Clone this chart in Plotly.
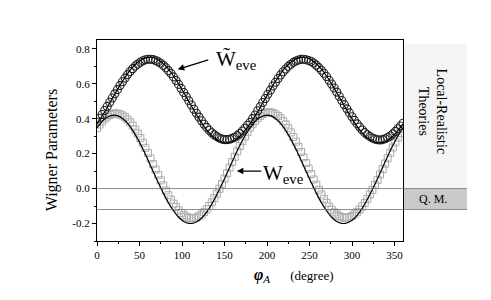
import plotly.graph_objects as go

# --- data ---
phi_pts = list(range(0, 361, 3))
w_tilde_pts = [
    0.381, 0.402, 0.424, 0.447, 0.470, 0.494, 0.518, 0.542, 0.566, 0.589,
    0.611, 0.632, 0.652, 0.670, 0.686, 0.701, 0.713, 0.723, 0.731, 0.737,
    0.740, 0.740, 0.738, 0.733, 0.726, 0.717, 0.705, 0.691, 0.675, 0.658,
    0.639, 0.618, 0.596, 0.573, 0.550, 0.526, 0.502, 0.478, 0.454, 0.431,
    0.409, 0.388, 0.368, 0.350, 0.334, 0.319, 0.307, 0.297, 0.289, 0.283,
    0.280, 0.280, 0.282, 0.287, 0.294, 0.303, 0.315, 0.329, 0.345, 0.362,
    0.378, 0.400, 0.421, 0.445, 0.468, 0.492, 0.515, 0.540, 0.563, 0.587,
    0.608, 0.630, 0.650, 0.668, 0.684, 0.699, 0.711, 0.722, 0.730, 0.736,
    0.739, 0.740, 0.737, 0.733, 0.727, 0.718, 0.706, 0.692, 0.677, 0.660,
    0.641, 0.620, 0.598, 0.575, 0.552, 0.528, 0.504, 0.480, 0.456, 0.433,
    0.411, 0.390, 0.370, 0.352, 0.335, 0.320, 0.308, 0.297, 0.289, 0.283,
    0.279, 0.278, 0.280, 0.285, 0.292, 0.301, 0.313, 0.327, 0.342, 0.358,
    0.374,
]
w_pts = [
    0.346, 0.366, 0.384, 0.400, 0.412, 0.421, 0.427, 0.430, 0.429, 0.425,
    0.418, 0.408, 0.395, 0.379, 0.360, 0.338, 0.315, 0.289, 0.262, 0.233,
    0.203, 0.172, 0.140, 0.109, 0.078, 0.047, 0.018, -0.011, -0.038, -0.063,
    -0.086, -0.106, -0.124, -0.140, -0.152, -0.161, -0.167, -0.170, -0.169, -0.166,
    -0.158, -0.148, -0.135, -0.119, -0.100, -0.079, -0.055, -0.029, -0.001, 0.027,
    0.057, 0.088, 0.120, 0.151, 0.182, 0.213, 0.243, 0.271, 0.298, 0.323,
    0.348, 0.368, 0.387, 0.403, 0.416, 0.426, 0.433, 0.436, 0.436, 0.432,
    0.425, 0.415, 0.402, 0.386, 0.367, 0.345, 0.321, 0.295, 0.268, 0.239,
    0.209, 0.178, 0.146, 0.114, 0.083, 0.052, 0.022, -0.007, -0.034, -0.059,
    -0.082, -0.103, -0.121, -0.136, -0.148, -0.158, -0.164, -0.167, -0.167, -0.164,
    -0.157, -0.147, -0.135, -0.120, -0.102, -0.082, -0.059, -0.034, -0.007, 0.021,
    0.050, 0.081, 0.112, 0.143, 0.174, 0.205, 0.235, 0.264, 0.291, 0.317,
    0.340,
]
phi_fit = list(range(0, 361, 6))
w_tilde_fit = [
    0.370, 0.415, 0.464, 0.516, 0.566, 0.614, 0.658, 0.695, 0.723, 0.742,
    0.751, 0.750, 0.737, 0.715, 0.683, 0.644, 0.599, 0.550, 0.498, 0.448,
    0.400, 0.356, 0.319, 0.291, 0.272, 0.262, 0.264, 0.277, 0.299, 0.331,
    0.370, 0.415, 0.464, 0.516, 0.566, 0.614, 0.658, 0.695, 0.723, 0.742,
    0.751, 0.750, 0.737, 0.715, 0.683, 0.644, 0.599, 0.550, 0.498, 0.448,
    0.400, 0.356, 0.319, 0.291, 0.272, 0.262, 0.264, 0.277, 0.299, 0.331,
    0.370,
]
w_fit = [
    0.347, 0.384, 0.408, 0.419, 0.417, 0.401, 0.373, 0.333, 0.283, 0.226,
    0.164, 0.099, 0.035, -0.026, -0.081, -0.127, -0.164, -0.188, -0.199, -0.197,
    -0.181, -0.153, -0.113, -0.063, -0.006, 0.056, 0.121, 0.185, 0.246, 0.301,
    0.347, 0.384, 0.408, 0.419, 0.417, 0.401, 0.373, 0.333, 0.283, 0.226,
    0.164, 0.099, 0.035, -0.026, -0.081, -0.127, -0.164, -0.188, -0.199, -0.197,
    -0.181, -0.153, -0.113, -0.063, -0.006, 0.056, 0.121, 0.185, 0.246, 0.301,
    0.347,
]
x_ticks = [0, 50, 100, 150, 200, 250, 300, 350]
y_ticks = [-0.2, 0.0, 0.2, 0.4, 0.6, 0.8]
y_tick_text = ["-0.2", "0.0", "0.2", "0.4", "0.6", "0.8"]
qm_low, qm_high, lr_high = -0.12, 0.0, 0.83

SERIF = "Liberation Serif"

fig = go.Figure()
fig.add_trace(go.Scatter(x=phi_pts, y=w_pts, mode="markers",
                         marker=dict(symbol="square-open", size=7, color="#ababab",
                                     line=dict(width=1, color="#ababab")),
                         showlegend=False))
fig.add_trace(go.Scatter(x=phi_fit, y=w_fit, mode="lines", line_shape="spline",
                         line=dict(color="black", width=1.2), showlegend=False))
fig.add_trace(go.Scatter(x=phi_pts, y=w_tilde_pts, mode="markers",
                         marker=dict(symbol="circle-open", size=8, color="#202020",
                                     line=dict(width=1.1, color="#202020")),
                         showlegend=False))
fig.add_trace(go.Scatter(x=phi_fit, y=w_tilde_fit, mode="lines", line_shape="spline",
                         line=dict(color="black", width=1.2), showlegend=False))

x_end = 1.209
shapes = [
    dict(type="rect", xref="paper", yref="y", x0=1, x1=x_end, y0=qm_high, y1=lr_high,
         fillcolor="#f4f4f4", line=dict(width=0), layer="below"),
    dict(type="rect", xref="paper", yref="y", x0=1, x1=x_end, y0=qm_low, y1=qm_high,
         fillcolor="#cacaca", line=dict(width=0), layer="below"),
    dict(type="line", xref="paper", yref="y", x0=0, x1=x_end, y0=qm_high, y1=qm_high,
         line=dict(color="#707070", width=0.8)),
    dict(type="line", xref="paper", yref="y", x0=0, x1=x_end, y0=qm_low, y1=qm_low,
         line=dict(color="#707070", width=0.8)),
]

annotations = [
    dict(x=95, y=0.682, ax=32, ay=-10, xref="x", yref="y", text="", showarrow=True,
         arrowhead=2, arrowsize=1, arrowwidth=1.3, arrowcolor="black"),
    dict(x=138, y=0.735, xref="x", yref="y", xanchor="left", yanchor="middle",
         text="W\u0303<sub>eve</sub>", showarrow=False,
         font=dict(family=SERIF, size=21, color="black")),
    dict(x=164.5, y=0.10, ax=26, ay=0, xref="x", yref="y", text="", showarrow=True,
         arrowhead=2, arrowsize=1, arrowwidth=1.3, arrowcolor="black"),
    dict(x=193, y=0.085, xref="x", yref="y", xanchor="left", yanchor="middle",
         text="W<sub>eve</sub>", showarrow=False,
         font=dict(family=SERIF, size=21, color="black")),
    dict(x=1.095, y=0.44, xref="paper", yref="y", xanchor="center", yanchor="middle",
         text="Local-Realistic<br>Theories",
         textangle=90, showarrow=False, font=dict(family=SERIF, size=14, color="black")),
    dict(x=1.098, y=-0.058, xref="paper", yref="y", xanchor="center", yanchor="middle",
         text="Q. M.", showarrow=False, font=dict(family=SERIF, size=12, color="black")),
    dict(x=0.507, y=0, xref="paper", yref="paper", xanchor="left", yanchor="middle",
         yshift=-34,
         text="<b><i>\u03c6</i></b><sub><i>A</i></sub>     <span style='font-size:13px'>(degree)</span>",
         showarrow=False, font=dict(family=SERIF, size=16, color="black")),
    dict(x=-0.147, y=0.219, xref="paper", yref="y", xanchor="center", yanchor="middle",
         text="Wigner Parameters", textangle=-90, showarrow=False,
         font=dict(family=SERIF, size=16, color="black")),
]

fig.update_layout(
    width=491, height=300,
    margin=dict(l=89, r=96, t=32, b=67),
    paper_bgcolor="white", plot_bgcolor="white",
    shapes=shapes, annotations=annotations,
    font=dict(family=SERIF, size=11, color="black"),
    xaxis=dict(range=[0, 360], tickvals=x_ticks, ticks="outside", ticklen=4,
               tickwidth=1, tickcolor="black", showline=True, linecolor="black",
               linewidth=1.2, mirror=True, showgrid=False, zeroline=False,
               minor=dict(dtick=25, tick0=0, ticks="outside", ticklen=2, tickcolor="black"),
               tickfont=dict(family=SERIF, size=11)),
    yaxis=dict(range=[-0.3, 0.85], tickvals=y_ticks, ticktext=y_tick_text,
               ticks="outside", ticklen=4, tickwidth=1, tickcolor="black",
               showline=True, linecolor="black", linewidth=1.2, mirror=True,
               showgrid=False, zeroline=False,
               minor=dict(dtick=0.1, tick0=0, ticks="outside", ticklen=2, tickcolor="black"),
               tickfont=dict(family=SERIF, size=11)),
)

fig.write_html("out.html")
